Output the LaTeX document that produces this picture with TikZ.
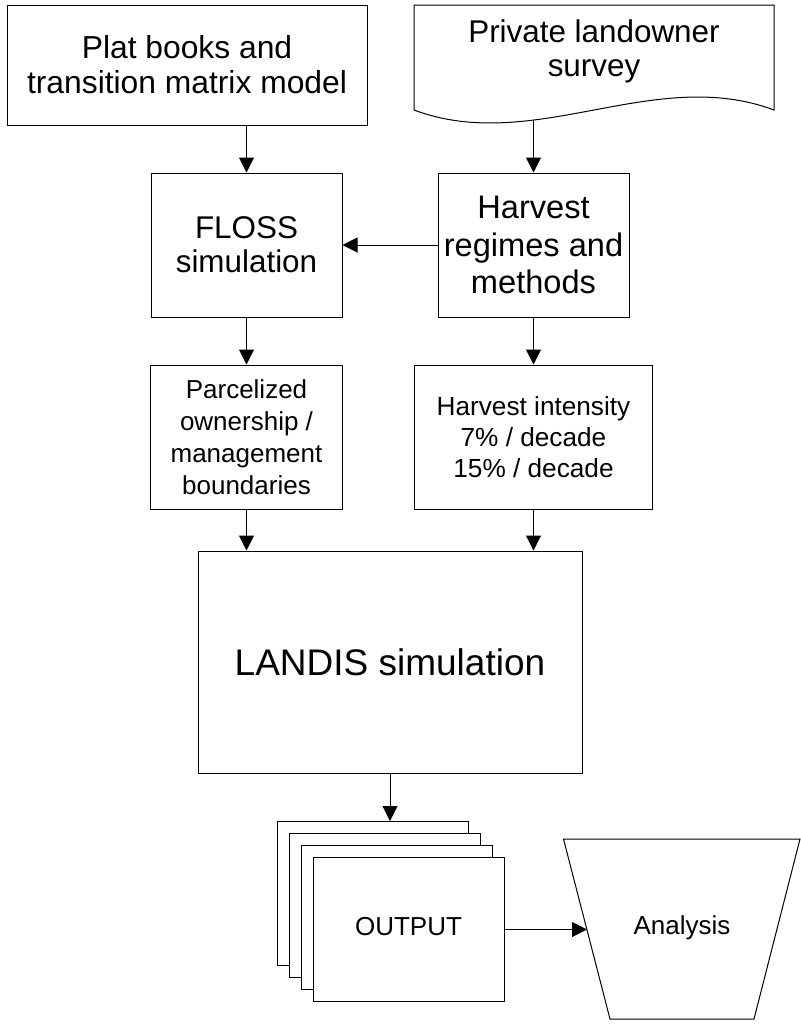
\documentclass[tikz,border=0pt]{standalone}
\usepackage{fontspec}
\setmainfont{Liberation Sans}
\usetikzlibrary{arrows.meta}
\newcommand{\fsz}[2]{\fontsize{#1}{#2}\selectfont}
\tikzset{
  flbox/.style={draw, line width=0.5pt, align=center, inner sep=0pt},
  flow/.style={-{Triangle[length=7.5pt,width=7.5pt]}, line width=0.5pt},
  page/.style={flbox, fill=white, minimum width=95.5pt, minimum height=72pt, font=\fsz{13}{15}}
}

\begin{document}
\begin{tikzpicture}[x=0.5pt,y=-0.5pt]
    \useasboundingbox (0,0) rectangle (801,1024);

    % inputs
    \node[flbox, minimum width=180pt, minimum height=60pt, font=\fsz{15.9}{17.5}] (plat) at (187,65) {Plat books and\\transition matrix model};

    \draw[line width=0.5pt] (414,110) -- (414,5) -- (774,5) -- (774,110) .. controls (654,65) and (534,155) .. (414,110) -- cycle;
    \node[align=center, font=\fsz{15.7}{17}] (survey) at (594,51) {Private landowner\\survey};
    \coordinate (svbot) at (533.5,120);

    % models
    \node[flbox, minimum width=95.5pt, minimum height=72pt, font=\fsz{15.7}{17}] (floss) at (246.5,245) {FLOSS\\simulation};
    \node[flbox, minimum width=95.5pt, minimum height=72pt, font=\fsz{16.3}{18.7}] (regimes) at (533.5,245) {Harvest\\regimes and\\methods};

    \node[flbox, minimum width=96pt, minimum height=72pt, font=\fsz{13}{16}] (parcel) at (246.5,437) {Parcelized\\ownership /\\management\\boundaries};
    \node[flbox, minimum width=119pt, minimum height=72pt, font=\fsz{13.1}{15.5}] (intensity) at (533.5,437) {Harvest intensity\\7\% / decade\\15\% / decade};

    \node[flbox, minimum width=192pt, minimum height=111pt, font=\fsz{18.5}{21}] (landis) at (390,662) {LANDIS simulation};

    % output stack
    \foreach \i in {1,2,3}
        \node[page] (page\i) at (360.5+12*\i,881.5+12*\i) {};
    \node[page] (page4) at (408.5,929.5) {\raisebox{3.5pt}{OUTPUT}};

    \draw[line width=0.5pt] (563.5,839) -- (800,839) -- (754,1019) -- (610,1019) -- cycle;
    \node[font=\fsz{13}{15}] (ana) at (682,928) {Analysis};
    \coordinate (anain) at (587,929.5);

    % connectors
    \draw[flow] (plat.south -| floss.north) -- (floss.north);
    \draw[flow] (svbot) -- (regimes.north);
    \draw[flow] (regimes.west) -- (floss.east);
    \draw[flow] (floss.south) -- (parcel.north);
    \draw[flow] (regimes.south) -- (intensity.north);
    \draw[flow] (parcel.south) -- (parcel.south |- landis.north);
    \draw[flow] (intensity.south) -- (intensity.south |- landis.north);
    \draw[flow] (landis.south) -- (landis.south |- page1.north);
    \draw[flow] (page4.east) -- (anain);
\end{tikzpicture}
\end{document}
